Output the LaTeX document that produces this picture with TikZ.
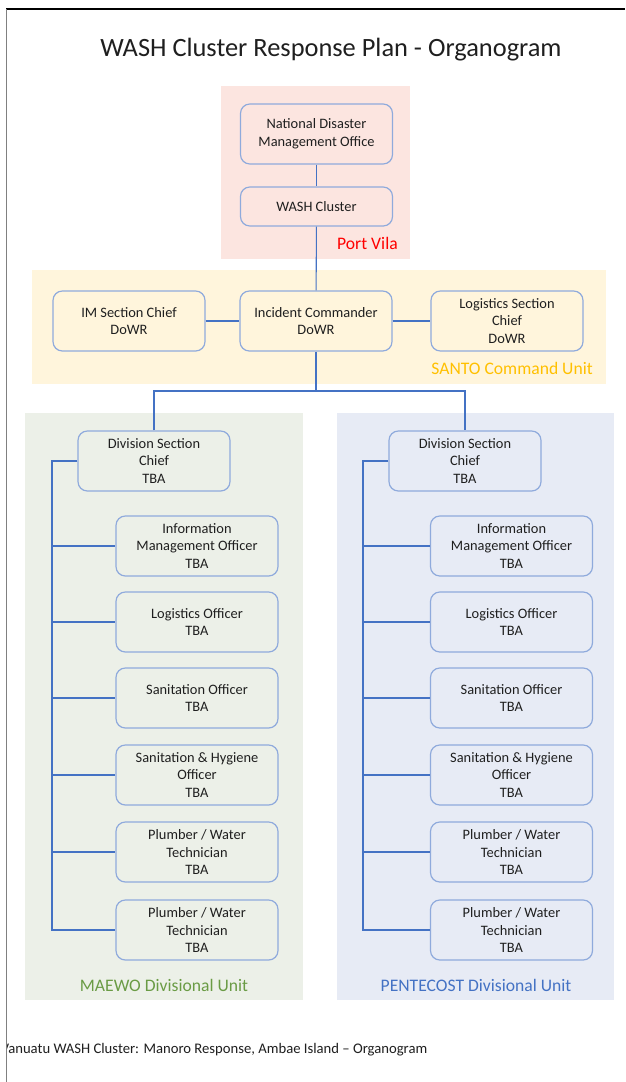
\documentclass[tikz,border=0pt]{standalone}
\usepackage{fontspec}
\setmainfont{Carlito}
\definecolor{boxline}{HTML}{8FAADC}
\definecolor{conn}{HTML}{4472C4}
\definecolor{pvfill}{HTML}{FCE5E0}
\definecolor{santofill}{HTML}{FFF5DC}
\definecolor{maewofill}{HTML}{ECF0E8}
\definecolor{pentefill}{HTML}{E7EBF5}
\definecolor{santotext}{HTML}{FFC000}
\definecolor{maewotext}{HTML}{6A9B45}
\definecolor{pentetext}{HTML}{4472C4}
\definecolor{boxtext}{HTML}{1F1F1F}
\begin{document}
\begin{tikzpicture}[x=0.75pt,y=-0.75pt,
  box/.style={draw=boxline, line width=0.9pt, rounded corners=7pt, align=center,
    font=\fontsize{10.8}{13.4}\selectfont, text=boxtext, inner sep=2pt,
    minimum width=114pt, minimum height=45pt},
  childbox/.style={box, minimum width=121.5pt},
  link/.style={draw=conn, line width=0.8pt},
  unitlabel/.style={font=\fontsize{13.2}{15}\selectfont, inner sep=0pt}]
\useasboundingbox (0,0) rectangle (625,1082);
\fill[white] (0,0) rectangle (625,1082);
% page edges
\draw[black, line width=1.4pt] (6,9) -- (625,9);
\draw[gray, line width=1.4pt] (6.5,9) -- (6.5,1082);
% title
\node[font=\fontsize{19.8}{24}\selectfont, text=boxtext] (title) at (331,50) {WASH Cluster Response Plan - Organogram};
% regions
\fill[pvfill] (221,86) rectangle (410,259);
\fill[santofill] (32,270) rectangle (606,384);
\fill[maewofill] (25,413) rectangle (303,1000);
\fill[pentefill] (337,413) rectangle (614,1000);
% region labels
\node[unitlabel, text=red, anchor=east] (pv) at (398,243) {Port Vila};
\node[unitlabel, text=santotext, anchor=east] (santo) at (593,368) {SANTO Command Unit};
\node[unitlabel, text=maewotext] (maewo) at (164,985) {MAEWO Divisional Unit};
\node[unitlabel, text=pentetext] (pente) at (476,985) {PENTECOST Divisional Unit};
% top boxes
\node[box] (ndmo) at (316.5,134) {National Disaster\\Management Office};
\node[box, minimum height=29.25pt] (wash) at (316.5,206.5) {WASH Cluster};
\node[box] (im) at (129,321) {IM Section Chief\\DoWR};
\node[box] (ic) at (316,321) {Incident Commander\\DoWR};
\node[box] (log) at (507,321) {Logistics Section\\Chief\\DoWR};
% division chiefs
\node[box] (lchief) at (154,461) {Division Section\\Chief\\TBA};
\node[box] (rchief) at (465,461) {Division Section\\Chief\\TBA};
% left children
\node[childbox] (l1) at (197,546) {Information\\Management Officer\\TBA};
\node[childbox] (l2) at (197,622) {Logistics Officer\\TBA};
\node[childbox] (l3) at (197,698) {Sanitation Officer\\TBA};
\node[childbox] (l4) at (197,775) {Sanitation \& Hygiene\\Officer\\TBA};
\node[childbox] (l5) at (197,852) {Plumber / Water\\Technician\\TBA};
\node[childbox] (l6) at (197,930) {Plumber / Water\\Technician\\TBA};
% right children
\node[childbox] (r1) at (511.5,546) {Information\\Management Officer\\TBA};
\node[childbox] (r2) at (511.5,622) {Logistics Officer\\TBA};
\node[childbox] (r3) at (511.5,698) {Sanitation Officer\\TBA};
\node[childbox] (r4) at (511.5,775) {Sanitation \& Hygiene\\Officer\\TBA};
\node[childbox] (r5) at (511.5,852) {Plumber / Water\\Technician\\TBA};
\node[childbox] (r6) at (511.5,930) {Plumber / Water\\Technician\\TBA};
% connectors
\draw[link] (ndmo) -- (wash);
\draw[link] (wash) -- (ic);
\draw[link] (im) -- (ic);
\draw[link] (ic) -- (log);
\coordinate (split) at (316,391);
\draw[link] (ic.south) -- (split);
\draw[link] (lchief.north) |- (split) -| (rchief.north);
\coordinate (lx) at (52,0);
\coordinate (rx) at (363,0);
\draw[link] (lchief.west) -- (lchief.west -| lx) -- (l6.west -| lx) -- (l6.west);
\draw[link] (rchief.west) -- (rchief.west -| rx) -- (r6.west -| rx) -- (r6.west);
\foreach \n in {l1,l2,l3,l4,l5} {\draw[link] (\n.west -| lx) -- (\n.west);}
\foreach \n in {r1,r2,r3,r4,r5} {\draw[link] (\n.west -| rx) -- (\n.west);}
% footer (clipped at the page edge)
\begin{scope}
\clip (7.5,1030) rectangle (625,1070);
\node[anchor=base west, inner sep=0pt, font=\fontsize{11}{13}\selectfont, text=boxtext] (footer) at (0.5,1053) {Vanuatu WASH Cluster: Manoro Response, Ambae Island – Organogram};
\end{scope}
\end{tikzpicture}
\end{document}
